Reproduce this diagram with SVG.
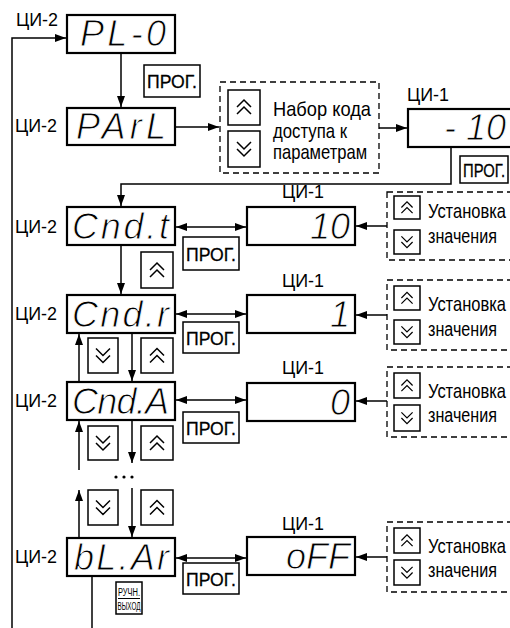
<svg xmlns="http://www.w3.org/2000/svg" width="510" height="628" viewBox="0 0 510 628">
<style>
.bg{fill:#fff}
.disp{fill:#fff;stroke:#000;stroke-width:2.2}
.btn{fill:#fff;stroke:#000;stroke-width:1.5}
.dash{fill:none;stroke:#000;stroke-width:1.3;stroke-dasharray:6 4}
.chev{fill:none;stroke:#000;stroke-width:1.5;stroke-linejoin:miter}
.conn path{fill:none;stroke:#000;stroke-width:1.5}
.lbl{font-family:"Liberation Sans",Arial,sans-serif;font-size:18px;fill:#000}
.key{font-family:"Liberation Sans",Arial,sans-serif;font-size:20px;fill:#000}
.prog{font-family:"Liberation Sans",Arial,sans-serif;font-size:19px;fill:#000;stroke:#000;stroke-width:0.3}
.small{font-family:"Liberation Sans",Arial,sans-serif;font-size:11.5px;fill:#000}
.seg{font-family:"Liberation Sans",Arial,sans-serif;font-size:36px;font-style:italic;fill:#000;stroke:#fff;stroke-width:0.9}
</style>
<defs>
<marker id="ah" markerUnits="userSpaceOnUse" markerWidth="11" markerHeight="8" refX="11" refY="4" orient="auto-start-reverse">
<path d="M0,0 L11,4 L0,8 z" fill="#000"/>
</marker>
<path id="up" class="chev" d="M-7,0 L0,-7 L7,0 M-7,7 L0,0 L7,7"/>
<path id="dn" class="chev" d="M-7,-7 L0,0 L7,-7 M-7,0 L0,7 L7,0"/>
</defs>
<rect class="bg" x="0" y="0" width="510" height="628"/>

<g id="connectors" class="conn">
<path d="M92,576 V628"/>
<path d="M12,628 V38 H66" marker-end="url(#ah)"/>
<path d="M121,53 V107" marker-end="url(#ah)"/>
<path d="M175,127 H219" marker-end="url(#ah)"/>
<path d="M379,128 H407" marker-end="url(#ah)"/>
<path d="M451,147 V184 H121 V206" marker-end="url(#ah)"/>
<path d="M121,245 V294" marker-end="url(#ah)"/>
<path d="M176,227 H246" marker-start="url(#ah)" marker-end="url(#ah)"/>
<path d="M387,226 H356" marker-end="url(#ah)"/>
<path d="M176,314 H246" marker-start="url(#ah)" marker-end="url(#ah)"/>
<path d="M387,315 H356" marker-end="url(#ah)"/>
<path d="M79,382 V334" marker-end="url(#ah)"/>
<path d="M132,333 V381" marker-end="url(#ah)"/>
<path d="M176,400 H246" marker-start="url(#ah)" marker-end="url(#ah)"/>
<path d="M387,401 H356" marker-end="url(#ah)"/>
<path d="M79,470 V421" marker-end="url(#ah)"/>
<path d="M132,420 V463" marker-end="url(#ah)"/>
<path d="M79,538 V490" marker-end="url(#ah)"/>
<path d="M132,488 V537" marker-end="url(#ah)"/>
<path d="M176,558 H246" marker-start="url(#ah)" marker-end="url(#ah)"/>
<path d="M387,557 H356" marker-end="url(#ah)"/>
<circle cx="116" cy="477" r="1.6" fill="#000"/>
<circle cx="124" cy="477" r="1.6" fill="#000"/>
<circle cx="132" cy="477" r="1.6" fill="#000"/>
</g>

<g id="node-pl0">
<text class="lbl" x="16" y="26" textLength="42" lengthAdjust="spacingAndGlyphs">ЦИ-2</text>
<rect class="disp" x="67" y="15" width="108" height="38"/>
<text class="seg" x="80" y="46" textLength="86" lengthAdjust="spacing">PL-0</text>
</g>
<g id="prog-1">
<rect class="btn" x="144" y="65" width="56" height="32"/>
<text class="prog" transform="translate(147,88) scale(0.88,1)" textLength="56.8" lengthAdjust="spacingAndGlyphs">ПРОГ.</text>
</g>
<g id="node-parl">
<text class="lbl" x="15" y="132" textLength="42" lengthAdjust="spacingAndGlyphs">ЦИ-2</text>
<rect class="disp" x="67" y="108" width="108" height="37"/>
<text class="seg" x="76" y="139" textLength="90" lengthAdjust="spacing">PArL</text>
</g>
<g id="code-entry">
<rect class="dash" x="220" y="82" width="159" height="91"/>
<rect class="btn" x="228" y="90" width="32" height="35"/>
<use href="#up" transform="translate(244,107)"/>
<rect class="btn" x="228" y="131" width="32" height="36"/>
<use href="#dn" transform="translate(244,149)"/>
<text class="key" transform="translate(273,116) scale(0.9,1)" textLength="108.9" lengthAdjust="spacingAndGlyphs">Набор кода</text>
<text class="key" transform="translate(273,138) scale(0.84,1)" textLength="88.1" lengthAdjust="spacingAndGlyphs">доступа к</text>
<text class="key" transform="translate(273,159) scale(0.83,1)" textLength="113.3" lengthAdjust="spacingAndGlyphs">параметрам</text>
</g>
<g id="ci1-code">
<text class="lbl" x="407" y="101" textLength="42" lengthAdjust="spacingAndGlyphs">ЦИ-1</text>
<rect class="disp" x="408" y="109" width="110" height="38"/>
<text class="seg" x="506" y="140" text-anchor="end">- 10</text>
</g>
<g id="prog-2">
<rect class="btn" x="460" y="156" width="48" height="27"/>
<text class="prog" transform="translate(463,177) scale(0.74,1)" textLength="56.8" lengthAdjust="spacingAndGlyphs">ПРОГ.</text>
</g>

<g id="node-cndt">
<text class="lbl" x="15" y="233" textLength="42" lengthAdjust="spacingAndGlyphs">ЦИ-2</text>
<rect class="disp" x="67" y="207" width="108" height="38"/>
<text class="seg" x="72" y="239" textLength="97" lengthAdjust="spacing">Cnd.t</text>
</g>
<g id="prog-cndt">
<rect class="btn" x="183" y="237" width="56" height="33"/>
<text class="prog" transform="translate(186,261) scale(0.88,1)" textLength="56.8" lengthAdjust="spacingAndGlyphs">ПРОГ.</text>
</g>
<g id="btn-cndt-up">
<rect class="btn" x="141" y="252" width="32" height="36"/>
<use href="#up" transform="translate(157,270)"/>
</g>
<g id="ci1-cndt">
<text class="lbl" x="282" y="198" textLength="42" lengthAdjust="spacingAndGlyphs">ЦИ-1</text>
<rect class="disp" x="247" y="207" width="108" height="38"/>
<text class="seg" x="350" y="239" text-anchor="end">10</text>
</g>
<g id="set-cndt">
<rect class="dash" x="387" y="192" width="130" height="68"/>
<rect class="btn" x="394" y="196" width="26" height="23"/>
<use href="#up" transform="translate(407,207.5) scale(0.8)"/>
<rect class="btn" x="394" y="230" width="26" height="24"/>
<use href="#dn" transform="translate(407,242) scale(0.8)"/>
<text class="key" transform="translate(428,218) scale(0.82,1)" textLength="95.1" lengthAdjust="spacingAndGlyphs">Установка</text>
<text class="key" transform="translate(428,243) scale(0.81,1)" textLength="85.2" lengthAdjust="spacingAndGlyphs">значения</text>
</g>

<g id="node-cndr">
<text class="lbl" x="15" y="320" textLength="42" lengthAdjust="spacingAndGlyphs">ЦИ-2</text>
<rect class="disp" x="67" y="295" width="108" height="38"/>
<text class="seg" x="72" y="327" textLength="97" lengthAdjust="spacing">Cnd.r</text>
</g>
<g id="prog-cndr">
<rect class="btn" x="183" y="322" width="56" height="31"/>
<text class="prog" transform="translate(186,345) scale(0.88,1)" textLength="56.8" lengthAdjust="spacingAndGlyphs">ПРОГ.</text>
</g>
<g id="btn-cndr-dn">
<rect class="btn" x="88" y="338" width="30" height="35"/>
<use href="#dn" transform="translate(103,355.5)"/>
</g>
<g id="btn-cndr-up">
<rect class="btn" x="141" y="338" width="32" height="35"/>
<use href="#up" transform="translate(157,355.5)"/>
</g>
<g id="ci1-cndr">
<text class="lbl" x="282" y="287" textLength="42" lengthAdjust="spacingAndGlyphs">ЦИ-1</text>
<rect class="disp" x="247" y="295" width="108" height="38"/>
<text class="seg" x="350" y="327" text-anchor="end">1</text>
</g>
<g id="set-cndr">
<rect class="dash" x="387" y="280" width="130" height="70"/>
<rect class="btn" x="394" y="286" width="26" height="24"/>
<use href="#up" transform="translate(407,298) scale(0.8)"/>
<rect class="btn" x="394" y="320" width="26" height="24"/>
<use href="#dn" transform="translate(407,332) scale(0.8)"/>
<text class="key" transform="translate(428,311) scale(0.82,1)" textLength="95.1" lengthAdjust="spacingAndGlyphs">Установка</text>
<text class="key" transform="translate(428,336) scale(0.81,1)" textLength="85.2" lengthAdjust="spacingAndGlyphs">значения</text>
</g>

<g id="node-cnda">
<text class="lbl" x="15" y="407" textLength="42" lengthAdjust="spacingAndGlyphs">ЦИ-2</text>
<rect class="disp" x="67" y="382" width="108" height="38"/>
<text class="seg" x="72" y="414" textLength="97" lengthAdjust="spacing">Cnd.A</text>
</g>
<g id="prog-cnda">
<rect class="btn" x="183" y="412" width="56" height="31"/>
<text class="prog" transform="translate(186,435) scale(0.88,1)" textLength="56.8" lengthAdjust="spacingAndGlyphs">ПРОГ.</text>
</g>
<g id="btn-cnda-dn">
<rect class="btn" x="88" y="426" width="30" height="34"/>
<use href="#dn" transform="translate(103,443)"/>
</g>
<g id="btn-cnda-up">
<rect class="btn" x="141" y="426" width="32" height="34"/>
<use href="#up" transform="translate(157,443)"/>
</g>
<g id="ci1-cnda">
<text class="lbl" x="282" y="374" textLength="42" lengthAdjust="spacingAndGlyphs">ЦИ-1</text>
<rect class="disp" x="247" y="383" width="108" height="38"/>
<text class="seg" x="350" y="415" text-anchor="end">0</text>
</g>
<g id="set-cnda">
<rect class="dash" x="387" y="367" width="130" height="70"/>
<rect class="btn" x="394" y="373" width="26" height="25"/>
<use href="#up" transform="translate(407,385.5) scale(0.8)"/>
<rect class="btn" x="394" y="405" width="26" height="26"/>
<use href="#dn" transform="translate(407,418) scale(0.8)"/>
<text class="key" transform="translate(428,398) scale(0.82,1)" textLength="95.1" lengthAdjust="spacingAndGlyphs">Установка</text>
<text class="key" transform="translate(428,422) scale(0.81,1)" textLength="85.2" lengthAdjust="spacingAndGlyphs">значения</text>
</g>

<g id="btn-blar-dn">
<rect class="btn" x="88" y="490" width="30" height="35"/>
<use href="#dn" transform="translate(103,507.5)"/>
</g>
<g id="btn-blar-up">
<rect class="btn" x="141" y="490" width="32" height="35"/>
<use href="#up" transform="translate(157,507.5)"/>
</g>
<g id="node-blar">
<text class="lbl" x="15" y="563" textLength="42" lengthAdjust="spacingAndGlyphs">ЦИ-2</text>
<rect class="disp" x="67" y="538" width="108" height="38"/>
<text class="seg" x="74" y="570" textLength="95" lengthAdjust="spacing">bL.Ar</text>
</g>
<g id="prog-blar">
<rect class="btn" x="183" y="563" width="56" height="31"/>
<text class="prog" transform="translate(186,586) scale(0.88,1)" textLength="56.8" lengthAdjust="spacingAndGlyphs">ПРОГ.</text>
</g>
<g id="manual-exit">
<rect class="btn" x="116" y="582" width="26" height="32"/>
<text class="small" transform="translate(118,596) scale(0.62,1)" textLength="35.5" lengthAdjust="spacingAndGlyphs">РУЧН.</text>
<path d="M118,598.5 H140" stroke="#000" stroke-width="1"/>
<text class="small" transform="translate(117.5,610) scale(0.54,1)" textLength="42.6" lengthAdjust="spacingAndGlyphs">ВЫХОД</text>
</g>
<g id="ci1-blar">
<text class="lbl" x="282" y="530" textLength="42" lengthAdjust="spacingAndGlyphs">ЦИ-1</text>
<rect class="disp" x="247" y="537" width="108" height="38"/>
<text class="seg" x="350" y="569" text-anchor="end">oFF</text>
</g>
<g id="set-blar">
<rect class="dash" x="387" y="522" width="130" height="70"/>
<rect class="btn" x="394" y="528" width="26" height="25"/>
<use href="#up" transform="translate(407,540.5) scale(0.8)"/>
<rect class="btn" x="394" y="560" width="26" height="25"/>
<use href="#dn" transform="translate(407,572.5) scale(0.8)"/>
<text class="key" transform="translate(428,553) scale(0.82,1)" textLength="95.1" lengthAdjust="spacingAndGlyphs">Установка</text>
<text class="key" transform="translate(428,577) scale(0.81,1)" textLength="85.2" lengthAdjust="spacingAndGlyphs">значения</text>
</g>
</svg>
